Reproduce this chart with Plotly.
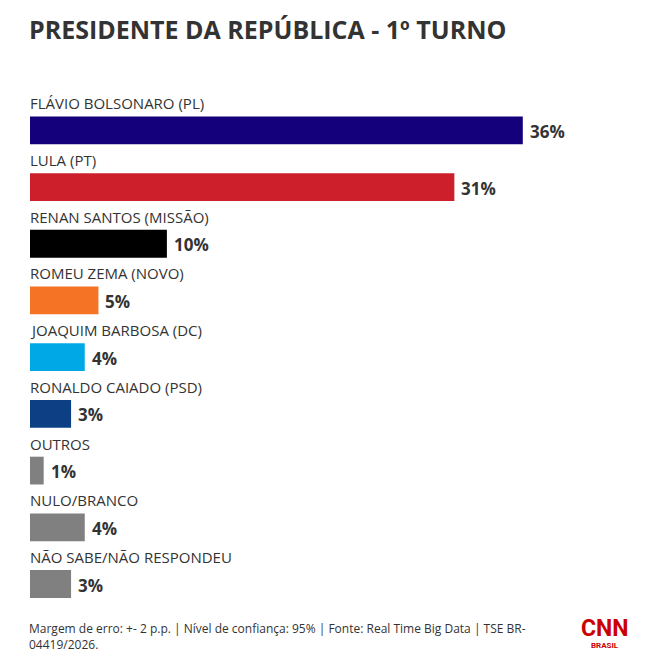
import plotly.graph_objects as go

# dados
candidatos = ["FLÁVIO BOLSONARO (PL)", "LULA (PT)", "RENAN SANTOS (MISSÃO)",
              "ROMEU ZEMA (NOVO)", "JOAQUIM BARBOSA (DC)", "RONALDO CAIADO (PSD)",
              "OUTROS", "NULO/BRANCO", "NÃO SABE/NÃO RESPONDEU"]
percentuais = [36, 31, 10, 5, 4, 3, 1, 4, 3]
cores = ["#13007a", "#cc1f2b", "#000000", "#f47324", "#00a9e6", "#0c3f84",
         "#808080", "#808080", "#808080"]

titulo = "PRESIDENTE DA REPÚBLICA - 1º TURNO"
rodape = ("Margem de erro: +- 2 p.p. | Nível de confiança: 95% | Fonte: Real Time Big Data | TSE BR-"
          "<br>04419/2026.")

FONTE = "Open Sans"
TXT = "#333333"

fig = go.Figure(go.Bar(
    x=percentuais, y=candidatos, orientation="h",
    marker=dict(color=cores, line=dict(width=0)),
    width=0.49, hoverinfo="skip",
))

# nome acima de cada barra e valor ao lado
for nome, v in zip(candidatos, percentuais):
    fig.add_annotation(x=0, y=nome, text=nome, showarrow=False,
                       xanchor="left", yanchor="bottom", yshift=15, xshift=-2,
                       font=dict(family=FONTE, size=15, color=TXT))
    fig.add_annotation(x=v, y=nome, text=f"<b>{v}%</b>", showarrow=False,
                       xanchor="left", yanchor="middle", xshift=5, yshift=-1,
                       font=dict(family=FONTE, size=17, color=TXT))

# título e rodapé presos ao papel (fora da área do gráfico)
fig.add_annotation(xref="paper", yref="paper", x=-0.005, y=1, yshift=92,
                   text=f"<b>{titulo}</b>", showarrow=False, xanchor="left", yanchor="top",
                   font=dict(family=FONTE, size=25, color=TXT))

fig.add_annotation(xref="paper", yref="paper", x=-0.005, y=0, yshift=5,
                   text=rodape, showarrow=False, xanchor="left", yanchor="top", align="left",
                   font=dict(family=FONTE, size=12, color=TXT))

# logo em texto
fig.add_annotation(xref="paper", yref="paper", x=0.933, y=0, yshift=10,
                   text="<b>CNN</b>", showarrow=False, xanchor="center", yanchor="top",
                   font=dict(family="Roboto", size=23, color="#cc0000"))
fig.add_annotation(xref="paper", yref="paper", x=0.933, y=0, yshift=-16,
                   text="<b>BRASIL</b>", showarrow=False, xanchor="center", yanchor="top",
                   font=dict(family="Roboto", size=8, color="#cc0000"))

fig.update_layout(
    width=651, height=649,
    margin=dict(l=22, r=13, t=94, b=34),
    paper_bgcolor="white", plot_bgcolor="white",
    showlegend=False,
    xaxis=dict(range=[0, 45], visible=False, fixedrange=True),
    yaxis=dict(autorange="reversed", visible=False, fixedrange=True),
)

fig.write_html("out.html", config={"displayModeBar": False})
